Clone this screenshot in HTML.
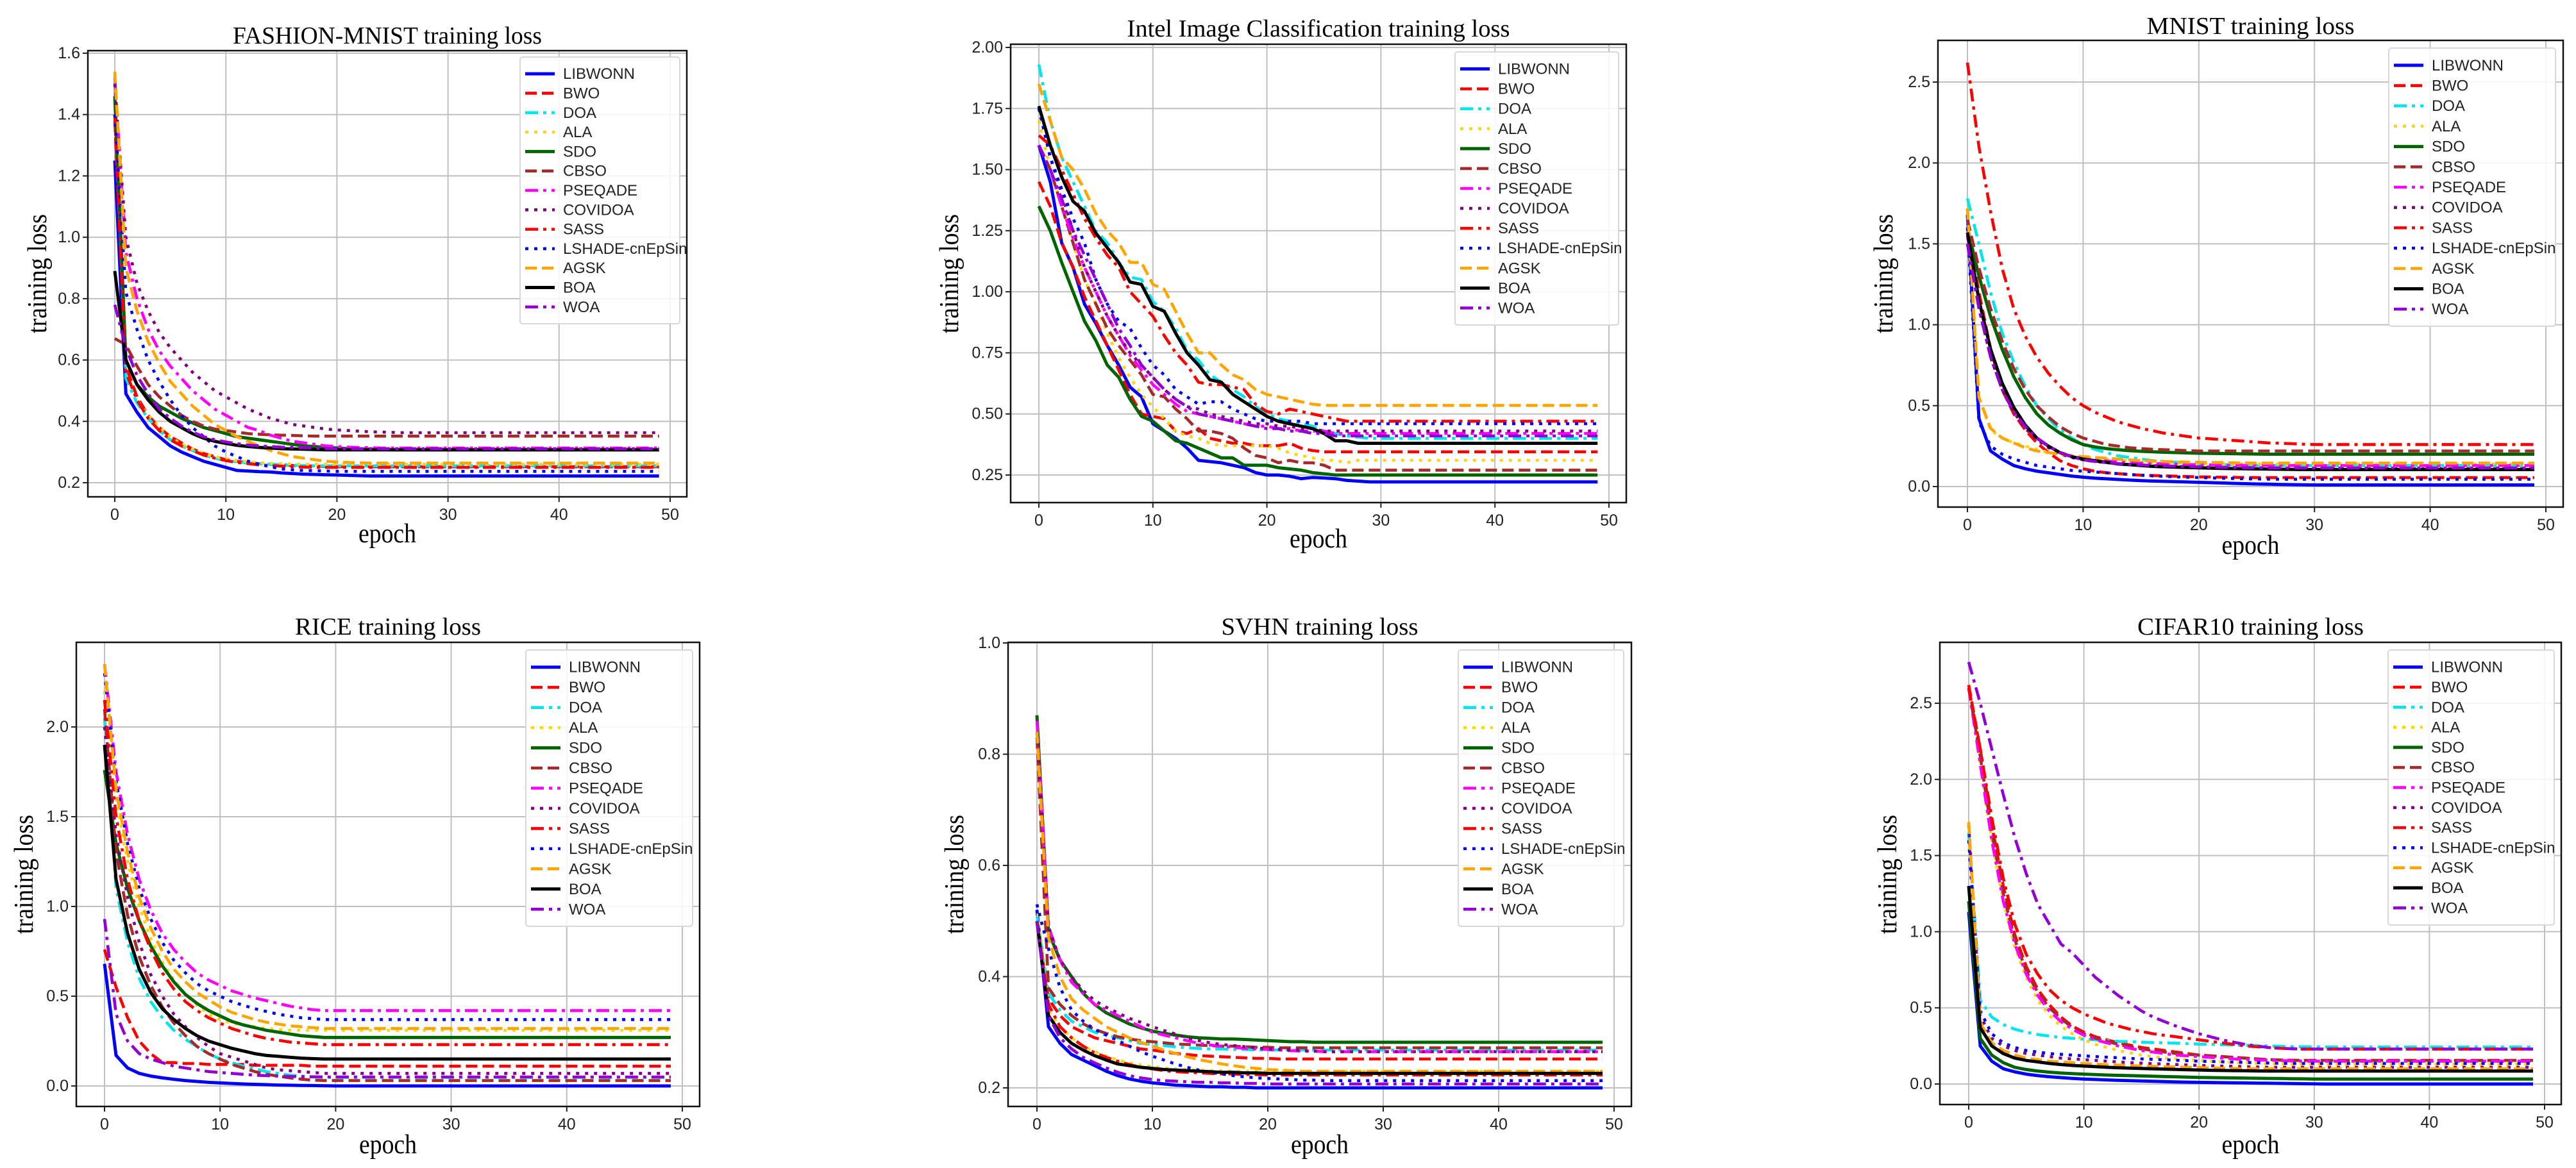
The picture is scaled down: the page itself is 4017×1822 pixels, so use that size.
<!DOCTYPE html>
<html><head><meta charset="utf-8"><style>
html,body{margin:0;padding:0;background:#fff;}
svg{display:block;}
</style></head><body>
<svg id="fig" width="4017" height="1822" viewBox="0 0 4017 1822" xmlns="http://www.w3.org/2000/svg"></svg>
<script>
const seriesNames = ["LIBWONN","BWO","DOA","ALA","SDO","CBSO","PSEQADE","COVIDOA","SASS","LSHADE-cnEpSin","AGSK","BOA","WOA"];
const xTicks = [0,10,20,30,40,50];

const fashionTicks = [0.2,0.4,0.6,0.8,1.0,1.2,1.4,1.6];
const fashionTickLabels = ["0.2","0.4","0.6","0.8","1.0","1.2","1.4","1.6"];
const fashionLoss = [
 [1.25,0.49,0.43,0.38,0.35,0.32,0.30,0.285,0.27,0.26,0.25,0.24,0.238,0.236,0.235,0.232,0.23,0.228,0.227,0.226,0.225,0.224,0.223,0.222],
 [1.38,0.58,0.48,0.42,0.38,0.35,0.33,0.31,0.295,0.285,0.275,0.27,0.265,0.262,0.26,0.258,0.256,0.255,0.254,0.253,0.252],
 [1.5,0.54,0.46,0.41,0.37,0.34,0.32,0.305,0.29,0.28,0.272,0.268,0.264,0.262,0.26,0.258,0.257,0.256,0.255],
 [1.45,0.56,0.47,0.42,0.38,0.35,0.325,0.31,0.295,0.285,0.278,0.272,0.268,0.265,0.263,0.262,0.261,0.26],
 [1.46,0.6,0.52,0.48,0.45,0.43,0.41,0.395,0.38,0.37,0.36,0.35,0.345,0.34,0.335,0.33,0.325,0.32,0.318,0.315,0.313,0.311,0.31,0.309,0.308,0.307],
 [0.67,0.65,0.58,0.52,0.48,0.45,0.42,0.40,0.385,0.375,0.37,0.365,0.36,0.358,0.356,0.355,0.354,0.353,0.352],
 [1.52,0.95,0.8,0.7,0.63,0.58,0.54,0.5,0.47,0.44,0.42,0.40,0.38,0.37,0.355,0.345,0.335,0.33,0.325,0.32,0.318,0.316,0.315,0.314,0.313],
 [1.5,1.0,0.85,0.76,0.69,0.64,0.6,0.56,0.53,0.5,0.48,0.46,0.44,0.425,0.41,0.4,0.39,0.385,0.38,0.375,0.372,0.37,0.368,0.366,0.365,0.364,0.363],
 [1.4,0.56,0.47,0.41,0.37,0.34,0.32,0.305,0.29,0.28,0.272,0.266,0.262,0.258,0.256,0.254,0.252,0.251,0.25],
 [1.4,0.82,0.7,0.6,0.53,0.47,0.42,0.38,0.35,0.32,0.3,0.285,0.27,0.26,0.252,0.245,0.242,0.24,0.239,0.238,0.237],
 [1.54,0.9,0.76,0.66,0.59,0.53,0.49,0.45,0.42,0.39,0.37,0.35,0.335,0.32,0.305,0.295,0.285,0.28,0.275,0.27,0.268,0.266,0.265,0.264],
 [0.89,0.6,0.52,0.47,0.43,0.4,0.38,0.36,0.345,0.335,0.328,0.322,0.318,0.315,0.313,0.311,0.31,0.309,0.308,0.307],
 [0.78,0.64,0.55,0.49,0.44,0.41,0.385,0.365,0.35,0.34,0.333,0.327,0.323,0.32,0.318,0.316,0.315,0.314,0.313,0.312,0.311]
];

const intelTicks = [0.25,0.5,0.75,1.0,1.25,1.5,1.75,2.0];
const intelTickLabels = ["0.25","0.50","0.75","1.00","1.25","1.50","1.75","2.00"];
const intelLoss = [
 [1.6,1.45,1.2,1.1,0.95,0.87,0.78,0.7,0.61,0.57,0.46,0.43,0.4,0.36,0.31,0.305,0.3,0.29,0.28,0.26,0.25,0.25,0.245,0.235,0.24,0.238,0.235,0.228,0.225,0.222],
 [1.45,1.35,1.2,1.1,0.98,0.88,0.78,0.68,0.58,0.5,0.49,0.48,0.43,0.42,0.44,0.4,0.39,0.38,0.38,0.37,0.37,0.37,0.38,0.36,0.35,0.345],
 [1.93,1.7,1.55,1.45,1.35,1.25,1.2,1.12,1.06,1.05,0.96,0.92,0.85,0.76,0.72,0.66,0.63,0.6,0.57,0.53,0.5,0.48,0.47,0.46,0.45,0.43,0.42,0.41,0.405,0.4],
 [1.7,1.5,1.35,1.2,1.05,0.95,0.83,0.73,0.65,0.58,0.53,0.48,0.43,0.41,0.4,0.38,0.37,0.37,0.37,0.37,0.37,0.36,0.34,0.33,0.32,0.31,0.31,0.3,0.31],
 [1.35,1.25,1.12,1.0,0.88,0.8,0.7,0.65,0.56,0.49,0.47,0.43,0.39,0.38,0.36,0.34,0.32,0.32,0.29,0.29,0.29,0.28,0.275,0.27,0.26,0.255,0.25],
 [1.6,1.5,1.35,1.2,1.05,0.95,0.85,0.78,0.72,0.66,0.58,0.57,0.52,0.48,0.43,0.43,0.42,0.4,0.36,0.33,0.32,0.3,0.31,0.3,0.3,0.29,0.27],
 [1.6,1.5,1.35,1.22,1.1,1.0,0.9,0.82,0.74,0.68,0.62,0.58,0.54,0.51,0.5,0.49,0.48,0.47,0.46,0.45,0.45,0.44,0.44,0.43,0.43,0.43,0.42],
 [1.75,1.55,1.4,1.25,1.1,1.0,0.9,0.82,0.75,0.7,0.65,0.6,0.56,0.53,0.52,0.5,0.49,0.48,0.47,0.46,0.46,0.45,0.45,0.44,0.44,0.43],
 [1.64,1.6,1.5,1.4,1.3,1.22,1.15,1.1,1.0,0.95,0.9,0.82,0.75,0.7,0.63,0.62,0.62,0.61,0.6,0.54,0.51,0.5,0.52,0.51,0.5,0.49,0.48,0.47],
 [1.75,1.55,1.42,1.3,1.2,1.05,0.95,0.88,0.85,0.77,0.7,0.66,0.6,0.57,0.54,0.55,0.55,0.52,0.5,0.48,0.47,0.47,0.47,0.47,0.46],
 [1.85,1.7,1.55,1.5,1.42,1.32,1.25,1.2,1.12,1.12,1.03,1.01,0.92,0.83,0.75,0.75,0.7,0.66,0.64,0.6,0.58,0.57,0.56,0.55,0.54,0.535],
 [1.76,1.6,1.47,1.37,1.33,1.24,1.18,1.12,1.04,1.03,0.94,0.92,0.83,0.75,0.7,0.64,0.63,0.58,0.55,0.52,0.49,0.47,0.46,0.45,0.44,0.42,0.39,0.39,0.38],
 [1.6,1.5,1.38,1.25,1.15,1.05,0.95,0.85,0.78,0.7,0.65,0.6,0.56,0.53,0.5,0.49,0.48,0.47,0.46,0.45,0.44,0.44,0.43,0.43,0.42,0.42,0.41]
];

const mnistTicks = [0.0,0.5,1.0,1.5,2.0,2.5];
const mnistTickLabels = ["0.0","0.5","1.0","1.5","2.0","2.5"];
const mnistLoss = [
 [1.68,0.42,0.22,0.17,0.13,0.11,0.095,0.085,0.075,0.065,0.058,0.052,0.048,0.044,0.04,0.037,0.034,0.032,0.03,0.028,0.026,0.024,0.022,0.02,0.018,0.016,0.015,0.013,0.012,0.011,0.01],
 [1.6,1.2,0.85,0.6,0.45,0.35,0.27,0.21,0.16,0.13,0.11,0.095,0.085,0.08,0.075,0.07,0.068,0.066,0.064,0.062,0.06,0.059,0.058,0.057,0.056,0.055],
 [1.78,1.5,1.2,0.95,0.77,0.62,0.5,0.42,0.35,0.3,0.26,0.23,0.21,0.19,0.18,0.17,0.16,0.155,0.15,0.145,0.14,0.14,0.135,0.135,0.13],
 [1.7,0.55,0.35,0.3,0.27,0.25,0.23,0.21,0.2,0.19,0.18,0.175,0.17,0.165,0.16,0.155,0.15,0.15,0.145,0.145,0.14],
 [1.6,1.3,1.05,0.85,0.68,0.55,0.45,0.38,0.33,0.29,0.26,0.245,0.235,0.228,0.222,0.218,0.215,0.212,0.21,0.208,0.206,0.205,0.204,0.203,0.202,0.201,0.2],
 [1.65,1.35,1.1,0.9,0.73,0.6,0.5,0.43,0.37,0.33,0.3,0.28,0.26,0.25,0.24,0.235,0.23,0.228,0.225,0.222,0.22],
 [1.55,1.15,0.85,0.64,0.49,0.38,0.3,0.25,0.21,0.19,0.175,0.165,0.158,0.152,0.148,0.145,0.142,0.14,0.138,0.136,0.135,0.134,0.133,0.132,0.131,0.13],
 [1.5,1.1,0.8,0.6,0.46,0.36,0.29,0.24,0.2,0.18,0.165,0.155,0.148,0.14,0.135,0.13,0.127,0.124,0.122,0.12,0.118,0.116,0.115,0.114,0.113,0.112,0.111,0.11],
 [2.62,2.1,1.7,1.35,1.1,0.93,0.8,0.7,0.62,0.55,0.5,0.46,0.43,0.4,0.38,0.36,0.345,0.33,0.32,0.31,0.3,0.295,0.29,0.285,0.28,0.275,0.27,0.268,0.265,0.262,0.26],
 [1.6,0.4,0.25,0.2,0.17,0.15,0.13,0.12,0.11,0.1,0.095,0.09,0.085,0.08,0.075,0.07,0.066,0.063,0.06,0.058,0.056,0.054,0.052,0.05,0.048,0.047,0.046,0.045],
 [1.72,0.55,0.36,0.3,0.27,0.24,0.22,0.21,0.2,0.19,0.185,0.18,0.175,0.17,0.165,0.16,0.158,0.155,0.153,0.151,0.15,0.149,0.148,0.147,0.146,0.145],
 [1.57,1.15,0.85,0.64,0.49,0.38,0.3,0.25,0.21,0.185,0.17,0.16,0.15,0.14,0.135,0.13,0.125,0.122,0.12,0.118,0.116,0.114,0.112,0.111,0.11,0.109,0.108,0.107,0.106,0.105],
 [1.5,1.1,0.8,0.6,0.46,0.37,0.3,0.25,0.21,0.185,0.165,0.155,0.148,0.142,0.138,0.134,0.13,0.128,0.126,0.124,0.122,0.12,0.119,0.118,0.117,0.116,0.115]
];

const riceTicks = [0.0,0.5,1.0,1.5,2.0];
const riceTickLabels = ["0.0","0.5","1.0","1.5","2.0"];
const riceLoss = [
 [0.68,0.17,0.1,0.07,0.055,0.045,0.037,0.03,0.025,0.02,0.017,0.014,0.011,0.009,0.007,0.005,0.004,0.003,0.002,0.001,0.0],
 [0.76,0.55,0.38,0.25,0.18,0.13,0.13,0.125,0.125,0.12,0.12,0.12,0.12,0.115,0.115,0.115,0.115,0.115,0.11,0.11],
 [2.05,1.1,0.8,0.6,0.47,0.38,0.31,0.26,0.22,0.18,0.15,0.13,0.11,0.095,0.08,0.07,0.06,0.055,0.05,0.048],
 [2.2,1.6,1.25,1.0,0.82,0.69,0.59,0.51,0.45,0.4,0.37,0.35,0.34,0.33,0.32,0.315,0.31,0.31,0.31,0.31],
 [1.76,1.35,1.1,0.92,0.78,0.67,0.58,0.51,0.46,0.42,0.39,0.36,0.34,0.325,0.31,0.3,0.29,0.28,0.275,0.27],
 [2.1,1.3,0.95,0.72,0.56,0.44,0.35,0.28,0.22,0.18,0.15,0.12,0.1,0.08,0.065,0.055,0.045,0.038,0.032,0.03],
 [2.35,1.75,1.4,1.15,0.98,0.85,0.76,0.69,0.63,0.59,0.56,0.53,0.51,0.49,0.475,0.46,0.445,0.435,0.425,0.42],
 [2.0,1.4,1.05,0.8,0.62,0.5,0.4,0.33,0.27,0.22,0.18,0.16,0.14,0.12,0.1,0.09,0.085,0.08,0.075,0.07],
 [2.15,1.5,1.15,0.92,0.76,0.63,0.54,0.47,0.42,0.38,0.35,0.32,0.3,0.28,0.265,0.255,0.245,0.24,0.235,0.23],
 [2.3,1.7,1.35,1.1,0.93,0.8,0.7,0.63,0.57,0.53,0.5,0.47,0.45,0.43,0.415,0.4,0.39,0.38,0.375,0.37],
 [2.35,1.65,1.3,1.05,0.88,0.75,0.65,0.58,0.52,0.48,0.44,0.41,0.39,0.37,0.355,0.345,0.335,0.33,0.325,0.32],
 [1.9,1.15,0.85,0.65,0.52,0.43,0.37,0.32,0.28,0.25,0.23,0.21,0.195,0.18,0.17,0.165,0.16,0.155,0.152,0.15],
 [0.93,0.4,0.25,0.18,0.15,0.13,0.11,0.1,0.09,0.08,0.075,0.07,0.065,0.06,0.057,0.055,0.053,0.052,0.051,0.05]
];

const svhnTicks = [0.2,0.4,0.6,0.8,1.0];
const svhnTickLabels = ["0.2","0.4","0.6","0.8","1.0"];
const svhnLoss = [
 [0.52,0.31,0.28,0.26,0.25,0.24,0.23,0.222,0.216,0.212,0.209,0.207,0.205,0.204,0.203,0.202,0.202,0.201,0.201,0.2],
 [0.5,0.36,0.33,0.31,0.3,0.29,0.285,0.28,0.275,0.27,0.268,0.265,0.262,0.26,0.258,0.257,0.256,0.255,0.254,0.253,0.253,0.252],
 [0.51,0.37,0.34,0.32,0.31,0.3,0.295,0.29,0.285,0.28,0.278,0.276,0.274,0.272,0.271,0.27,0.27,0.269,0.269,0.268],
 [0.53,0.34,0.31,0.29,0.275,0.265,0.257,0.25,0.245,0.241,0.238,0.236,0.234,0.233,0.232,0.231,0.231,0.23],
 [0.87,0.48,0.43,0.4,0.37,0.35,0.335,0.325,0.315,0.308,0.302,0.298,0.295,0.292,0.29,0.289,0.288,0.288,0.287,0.286,0.285,0.284,0.283,0.283,0.282],
 [0.83,0.38,0.35,0.33,0.315,0.305,0.298,0.292,0.288,0.285,0.283,0.281,0.279,0.278,0.277,0.276,0.275,0.275,0.274,0.273,0.273,0.272],
 [0.86,0.49,0.43,0.39,0.37,0.35,0.34,0.33,0.32,0.31,0.3,0.295,0.29,0.285,0.28,0.277,0.275,0.273,0.271,0.27,0.269,0.268,0.267,0.266,0.266,0.265],
 [0.84,0.49,0.43,0.4,0.375,0.357,0.345,0.335,0.325,0.318,0.31,0.303,0.297,0.29,0.285,0.281,0.278,0.276,0.274,0.272,0.27,0.269,0.268,0.267,0.266,0.265],
 [0.5,0.35,0.31,0.29,0.275,0.263,0.255,0.248,0.242,0.237,0.234,0.231,0.229,0.228,0.227,0.226,0.225,0.225,0.224,0.224,0.223],
 [0.53,0.45,0.38,0.34,0.32,0.305,0.295,0.285,0.275,0.265,0.257,0.25,0.243,0.237,0.232,0.228,0.225,0.222,0.22,0.218,0.217,0.216,0.215,0.214,0.214,0.213],
 [0.84,0.47,0.4,0.36,0.34,0.325,0.31,0.3,0.29,0.282,0.275,0.268,0.262,0.256,0.251,0.247,0.243,0.24,0.237,0.235,0.233,0.232,0.231,0.23],
 [0.5,0.33,0.3,0.28,0.268,0.258,0.25,0.243,0.24,0.237,0.235,0.233,0.232,0.231,0.23,0.229,0.228,0.228,0.227,0.227,0.226],
 [0.5,0.33,0.29,0.27,0.255,0.245,0.236,0.228,0.222,0.218,0.215,0.213,0.212,0.211,0.21,0.21,0.209,0.209,0.208,0.208,0.207]
];

const cifarTicks = [0.0,0.5,1.0,1.5,2.0,2.5];
const cifarTickLabels = ["0.0","0.5","1.0","1.5","2.0","2.5"];
const cifarLoss = [
 [1.13,0.25,0.15,0.1,0.08,0.065,0.055,0.048,0.042,0.037,0.033,0.03,0.027,0.024,0.022,0.02,0.018,0.016,0.014,0.012,0.011,0.01,0.009,0.008,0.007,0.006,0.005,0.004,0.003,0.002,0.001,0.0],
 [2.62,2.2,1.7,1.3,0.98,0.77,0.62,0.52,0.44,0.38,0.34,0.31,0.29,0.27,0.255,0.24,0.23,0.22,0.21,0.2,0.19,0.185,0.18,0.175,0.17,0.165,0.16,0.158,0.156,0.155],
 [1.65,0.55,0.44,0.39,0.36,0.34,0.325,0.315,0.305,0.3,0.295,0.29,0.285,0.28,0.278,0.275,0.272,0.27,0.268,0.265,0.262,0.26,0.258,0.256,0.254,0.252,0.25,0.248,0.246,0.245,0.244,0.243],
 [2.6,2.1,1.6,1.2,0.9,0.7,0.55,0.45,0.38,0.33,0.29,0.26,0.24,0.22,0.205,0.19,0.18,0.17,0.165,0.16,0.155,0.15,0.145,0.14,0.138,0.136,0.134,0.132,0.13],
 [1.2,0.3,0.19,0.14,0.11,0.095,0.085,0.078,0.072,0.068,0.065,0.062,0.059,0.057,0.055,0.053,0.051,0.049,0.047,0.045,0.043,0.042,0.041,0.04,0.039,0.038,0.037,0.036,0.035,0.034,0.033],
 [2.6,2.15,1.65,1.25,0.95,0.74,0.6,0.5,0.43,0.37,0.33,0.3,0.28,0.26,0.245,0.23,0.22,0.21,0.2,0.195,0.19,0.185,0.18,0.175,0.17,0.165,0.16,0.158,0.156,0.155],
 [2.6,2.1,1.6,1.2,0.92,0.72,0.58,0.48,0.41,0.36,0.32,0.29,0.27,0.25,0.235,0.22,0.21,0.2,0.19,0.185,0.18,0.175,0.17,0.165,0.16,0.158,0.156,0.154,0.152,0.15],
 [1.7,0.45,0.3,0.25,0.22,0.2,0.19,0.18,0.17,0.165,0.16,0.155,0.15,0.145,0.14,0.137,0.134,0.131,0.128,0.125,0.122,0.12,0.118,0.116,0.114,0.112,0.11],
 [2.6,2.2,1.75,1.35,1.05,0.85,0.72,0.62,0.55,0.5,0.46,0.43,0.4,0.38,0.36,0.345,0.33,0.32,0.31,0.3,0.29,0.28,0.27,0.26,0.25,0.245,0.24,0.235,0.232,0.23],
 [1.6,0.48,0.33,0.27,0.24,0.22,0.21,0.2,0.195,0.19,0.185,0.18,0.176,0.172,0.168,0.165,0.162,0.159,0.156,0.153,0.15,0.148,0.146,0.144,0.142,0.14,0.138,0.136,0.135],
 [1.72,0.4,0.27,0.22,0.19,0.17,0.16,0.15,0.145,0.14,0.135,0.13,0.127,0.124,0.121,0.118,0.116,0.114,0.112,0.11,0.108,0.106,0.104,0.102,0.1],
 [1.3,0.37,0.25,0.2,0.17,0.155,0.145,0.135,0.128,0.122,0.118,0.114,0.11,0.107,0.104,0.102,0.1,0.098,0.096,0.094,0.092,0.09,0.089,0.088,0.087,0.086,0.085],
 [2.77,2.5,2.2,1.9,1.62,1.38,1.18,1.05,0.92,0.86,0.78,0.7,0.64,0.58,0.53,0.48,0.44,0.41,0.38,0.355,0.33,0.31,0.29,0.275,0.26,0.25,0.24,0.235,0.232,0.23]
];

// styles (not data)
const seriesColors = ["#0000ff","#ff0000","#00e5ee","#ffd700","#006400","#a52a2a","#ff00ff","#800080","#ff0000","#0000ff","#ffa500","#000000","#9400d3"];
const seriesDash = ["", "18 8", "20 8 5 8", "5 9", "", "18 8", "20 8 5 8", "5 9", "20 8 5 8", "5 9", "18 8", "", "20 8 5 8"];

const NS = "http://www.w3.org/2000/svg";
const svg = document.getElementById("fig");
function el(tag, attrs, parent) {
  const e = document.createElementNS(NS, tag);
  for (const k in attrs) e.setAttribute(k, attrs[k]);
  (parent || svg).appendChild(e);
  return e;
}

const panels = [
 {key:"fashion", title:"FASHION-MNIST training loss", tw:482, loss:fashionLoss, ticks:fashionTicks, labels:fashionTickLabels,
  L:137,R:1071,T:79,B:775, x0:179,x50:1045, v1:0.2,p1:753, v2:1.6,p2:83, ty:68, yl:60, yc:427, ex:834, lg:[811,89,1060,505]},
 {key:"intel", title:"Intel Image Classification training loss", tw:597, loss:intelLoss, ticks:intelTicks, labels:intelTickLabels,
  L:1576,R:2536,T:69,B:784, x0:1620,x50:2509, v1:0.25,p1:741, v2:2.0,p2:74, ty:57, yl:1482, yc:427, ex:842, lg:[2269,81,2524,507]},
 {key:"mnist", title:"MNIST training loss", tw:324, loss:mnistLoss, ticks:mnistTicks, labels:mnistTickLabels,
  L:3022,R:3997,T:63,B:791, x0:3068,x50:3970, v1:0.0,p1:759, v2:2.5,p2:128, ty:53, yl:2939, yc:427, ex:852, lg:[3725,75,3985,509]},
 {key:"rice", title:"RICE training loss", tw:290, loss:riceLoss, ticks:riceTicks, labels:riceTickLabels,
  L:119,R:1091,T:1002,B:1726, x0:163,x50:1064, v1:0.0,p1:1694, v2:2.0,p2:1134, ty:990, yl:39, yc:1364, ex:1787, lg:[820,1014,1080,1445]},
 {key:"svhn", title:"SVHN training loss", tw:307, loss:svhnLoss, ticks:svhnTicks, labels:svhnTickLabels,
  L:1572,R:2544,T:1002,B:1726, x0:1617,x50:2517, v1:0.2,p1:1697, v2:1.0,p2:1003, ty:990, yl:1490, yc:1364, ex:1787, lg:[2274,1014,2532,1445]},
 {key:"cifar", title:"CIFAR10 training loss", tw:353, loss:cifarLoss, ticks:cifarTicks, labels:cifarTickLabels,
  L:3025,R:3994,T:1002,B:1723, x0:3070,x50:3968, v1:0.0,p1:1691, v2:2.5,p2:1097, ty:990, yl:2945, yc:1364, ex:1787, lg:[3724,1014,3983,1443]}
];

const tickFont = '"Liberation Sans Narrow","Liberation Sans",sans-serif';
const serif = '"Liberation Serif",serif';

panels.forEach(p => {
  const xs = e => p.x0 + (p.x50 - p.x0) * e / 50;
  const ys = v => p.p1 + (p.p2 - p.p1) * (v - p.v1) / (p.v2 - p.v1);
  const g = el("g", {});
  
  

  const t = el("text", {x:(p.L+p.R)/2, y:p.ty, "text-anchor":"middle", "font-family":serif, "font-size":38, textLength:p.tw, lengthAdjust:"spacingAndGlyphs", fill:"#000"}, g);
  t.textContent = p.title;
  
  

  const grid = el("g", {stroke:"#c0c0c0","stroke-width":2}, g);
  
  
  xTicks.forEach(v => { el("line", {x1:xs(v),x2:xs(v),y1:p.T,y2:p.B}, grid); });
  p.ticks.forEach(v => { el("line", {x1:p.L,x2:p.R,y1:ys(v),y2:ys(v)}, grid); });

  p.loss.forEach((arr, i) => {
    const pts = [];
    for (let e = 0; e < 50; e++) { const v = arr[Math.min(e, arr.length - 1)]; pts.push(xs(e).toFixed(1) + "," + ys(v).toFixed(1)); }
    const line = el("polyline", {points:pts.join(" "), fill:"none", stroke:seriesColors[i], "stroke-width":(seriesDash[i]===""?5:4.6), "stroke-dasharray":seriesDash[i]||"none", "stroke-linejoin":"round"}, g);
    
    
  });

  const fr = el("rect", {x:p.L,y:p.T,width:p.R-p.L,height:p.B-p.T,fill:"none",stroke:"#111","stroke-width":2.5}, g);
  
  

  xTicks.forEach(v => {
    el("line", {x1:xs(v),x2:xs(v),y1:p.B,y2:p.B+8,stroke:"#222","stroke-width":2}, g);
    const tl = el("text", {x:xs(v), y:p.B+36, "text-anchor":"middle", "font-family":tickFont, "font-size":25, fill:"#222"}, g);
    tl.textContent = String(v);
    
    
  });
  p.ticks.forEach((v, k) => {
    el("line", {x1:p.L-8,x2:p.L,y1:ys(v),y2:ys(v),stroke:"#222","stroke-width":2}, g);
    const tl = el("text", {x:p.L-12, y:ys(v)+8, "text-anchor":"end", "font-family":tickFont, "font-size":25, fill:"#222"}, g);
    tl.textContent = p.labels[k];
    
    
  });

  const xl = el("text", {x:(p.L+p.R)/2, y:p.ex+12, "text-anchor":"middle", "font-family":serif, "font-size":42, textLength:90, lengthAdjust:"spacingAndGlyphs", fill:"#000"}, g);
  xl.textContent = "epoch";
  
  
  const yl = el("text", {x:0, y:0, transform:`translate(${p.yl+12},${p.yc}) rotate(-90)`, "text-anchor":"middle", "font-family":serif, "font-size":42, textLength:186, lengthAdjust:"spacingAndGlyphs", fill:"#000"}, g);
  yl.textContent = "training loss";
  
  

  const [lx1, ly1, lx2, ly2] = p.lg;
  const lgG = el("g", {}, g);
  
  
  el("rect", {x:lx1,y:ly1,width:lx2-lx1,height:ly2-ly1,rx:4,fill:"#fff","fill-opacity":0.85,stroke:"#d8d8d8","stroke-width":2}, lgG);
  const rowH = (ly2 - ly1 - 22) / 13;
  seriesNames.forEach((n, i) => {
    const cy = ly1 + 11 + rowH * (i + 0.5);
    const sw = el("line", {x1:lx1+8,x2:lx1+54,y1:cy,y2:cy,stroke:seriesColors[i],"stroke-width":(seriesDash[i]===""?5:4.6),"stroke-dasharray":seriesDash[i]||"none"}, lgG);
    
    
    const lt = el("text", {x:lx1+67, y:cy+8, "font-family":tickFont, "font-size":24, fill:"#222"}, lgG);
    lt.textContent = n;
    
    
  });
});
</script>
</body></html>
